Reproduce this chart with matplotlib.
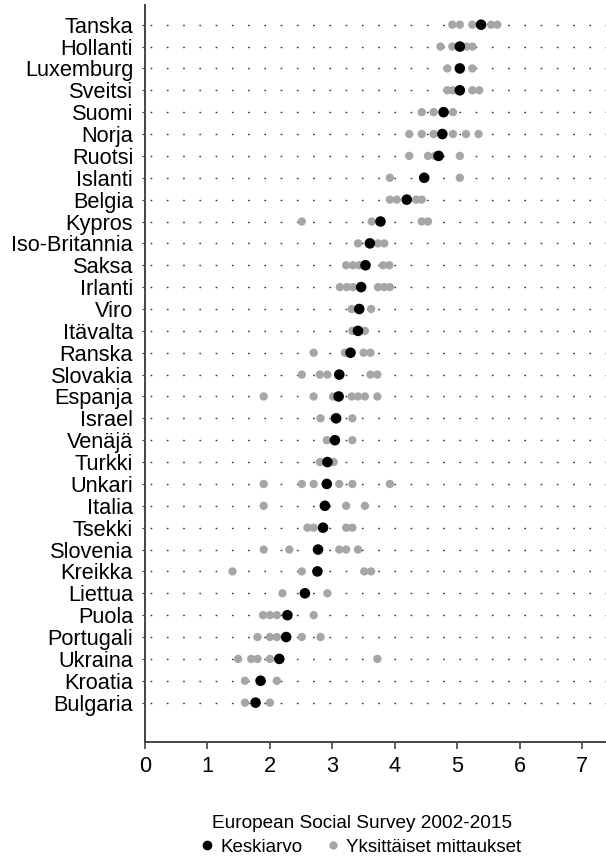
import matplotlib
matplotlib.use("Agg")
import matplotlib.pyplot as plt
from matplotlib.lines import Line2D

plt.rcParams['font.family'] = ['Liberation Sans', 'DejaVu Sans']

countries = ["Tanska", "Hollanti", "Luxemburg", "Sveitsi", "Suomi", "Norja", "Ruotsi",
             "Islanti", "Belgia", "Kypros", "Iso-Britannia", "Saksa", "Irlanti", "Viro",
             "Itävalta", "Ranska", "Slovakia", "Espanja", "Israel", "Venäjä", "Turkki",
             "Unkari", "Italia", "Tsekki", "Slovenia", "Kreikka", "Liettua", "Puola",
             "Portugali", "Ukraina", "Kroatia", "Bulgaria"]

means = [5.38, 5.04, 5.04, 5.04, 4.78, 4.76, 4.70, 4.47, 4.19, 3.77, 3.60, 3.53, 3.46,
         3.43, 3.41, 3.29, 3.11, 3.10, 3.06, 3.04, 2.92, 2.91, 2.88, 2.85, 2.77, 2.76,
         2.56, 2.28, 2.26, 2.15, 1.85, 1.77]

measurements = [
    [4.92, 5.04, 5.24, 5.38, 5.54, 5.64],
    [4.73, 4.92, 5.04, 5.15, 5.24],
    [4.84, 5.04, 5.24],
    [4.84, 4.93, 5.04, 5.24, 5.35],
    [4.43, 4.62, 4.78, 4.93],
    [4.23, 4.43, 4.62, 4.76, 4.93, 5.14, 5.34],
    [4.23, 4.53, 4.64, 4.70, 5.04],
    [3.92, 4.47, 5.04],
    [3.92, 4.03, 4.19, 4.34, 4.43],
    [2.51, 3.63, 3.77, 4.43, 4.53],
    [3.41, 3.60, 3.73, 3.83],
    [3.22, 3.33, 3.43, 3.53, 3.81, 3.91],
    [3.12, 3.23, 3.33, 3.46, 3.73, 3.83, 3.92],
    [3.31, 3.43, 3.62],
    [3.32, 3.41, 3.52],
    [2.70, 3.20, 3.29, 3.50, 3.61],
    [2.51, 2.80, 2.92, 3.11, 3.61, 3.72],
    [1.90, 2.70, 3.01, 3.10, 3.31, 3.41, 3.52, 3.72],
    [2.81, 3.03, 3.06, 3.32],
    [2.91, 3.04, 3.32],
    [2.80, 2.92, 3.02],
    [1.90, 2.51, 2.70, 2.91, 3.11, 3.32, 3.92],
    [1.90, 2.88, 3.22, 3.52],
    [2.60, 2.70, 2.85, 3.22, 3.32],
    [1.90, 2.31, 2.77, 3.11, 3.22, 3.41],
    [1.40, 2.51, 2.76, 3.51, 3.62],
    [2.20, 2.56, 2.92],
    [1.89, 2.00, 2.11, 2.28, 2.70],
    [1.80, 2.00, 2.11, 2.26, 2.51, 2.81],
    [1.49, 1.70, 1.80, 2.00, 2.15, 3.72],
    [1.60, 1.85, 2.11],
    [1.60, 1.77, 2.00],
]

xticks = [0, 1, 2, 3, 4, 5, 6, 7]
legend_title = "European Social Survey 2002-2015"
legend_labels = ["Keskiarvo", "Yksittäiset mittaukset"]

fig = plt.figure(figsize=(6.06, 8.57), dpi=100)
ax = fig.add_axes([145/606, 1 - 742/857, 1 - 145/606, (742 - 5)/857])

n = len(countries)
ypos = list(range(n))
xmin, xmax = 0, 7.38

for y in ypos:
    ax.plot([xmin, xmax], [y, y], color='#333333', lw=1.0,
            linestyle=(8, (1.2, 10.5)), zorder=1)

for y, vals in zip(ypos, measurements):
    ax.scatter(vals, [y] * len(vals), s=36, color='#a6a6a6', edgecolors='none', zorder=2)

ax.scatter(means, ypos, s=58, color='black', edgecolors='none', zorder=3)

ax.set_xlim(xmin, xmax)
ax.set_ylim(n - 1 + 1.8, -0.9)
ax.set_yticks(ypos)
ax.set_yticklabels(countries, fontsize=15.7)
ax.set_xticks(xticks)
ax.set_xticklabels([str(t) for t in xticks], fontsize=15.7)

for side in ['top', 'right']:
    ax.spines[side].set_visible(False)
for side in ['left', 'bottom']:
    ax.spines[side].set_color('#444444')
    ax.spines[side].set_linewidth(1.4)

ax.tick_params(axis='x', length=5, width=1.2, color='#444444', pad=5)
ax.tick_params(axis='y', length=2.5, width=0.8, color='#444444', pad=6)

fig.text(362/606, 1 - 823/857, legend_title, ha='center', va='center', fontsize=13.7)
handles = [Line2D([], [], marker='o', linestyle='none', color='black', markersize=6),
           Line2D([], [], marker='o', linestyle='none', color='#a6a6a6', markersize=5)]
fig.legend(handles, legend_labels, loc='center', bbox_to_anchor=(359.5/606, 1 - 847/857),
           ncol=2, frameon=False, fontsize=13.5, handletextpad=0.2, columnspacing=1.1,
           handlelength=1.0, borderpad=0, borderaxespad=0)

fig.savefig("out.png", dpi=100)
